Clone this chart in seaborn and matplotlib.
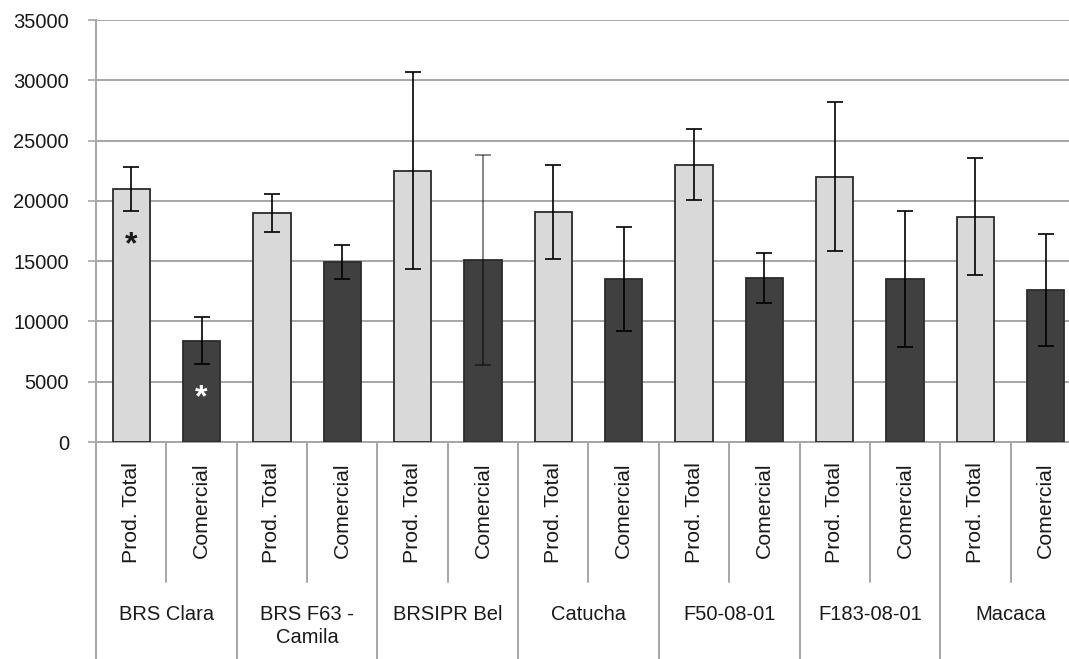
import matplotlib
matplotlib.use("Agg")
import matplotlib.pyplot as plt
import seaborn as sns
import pandas as pd

sns.set_theme(style="white")
plt.rcParams['font.family'] = ['Liberation Sans', 'DejaVu Sans']

cultivars = ["BRS Clara", "BRS F63 -\nCamila", "BRSIPR Bel", "Catucha",
             "F50-08-01", "F183-08-01", "Macaca"]
types = ["Prod. Total", "Comercial"]

prod_total = [21000, 19000, 22500, 19100, 23000, 22000, 18700]
prod_total_sd = [1800, 1550, 8150, 3900, 2950, 6200, 4850]
comercial = [8400, 14900, 15100, 13500, 13600, 13500, 12600]
comercial_sd = [1950, 1400, 8700, 4300, 2050, 5650, 4650]

# asterisks (bar index, y value, colour)
stars = [(0, 16300, "#1a1a1a"), (1, 3600, "white")]

rows = []
for i, c in enumerate(cultivars):
    rows.append({"bar": f"{i}a", "cultivar": c, "type": types[0],
                 "value": prod_total[i], "sd": prod_total_sd[i]})
    rows.append({"bar": f"{i}b", "cultivar": c, "type": types[1],
                 "value": comercial[i], "sd": comercial_sd[i]})
df = pd.DataFrame(rows)

fig = plt.figure(figsize=(10.69, 6.59), dpi=100)
ax = fig.add_axes([96 / 1069, 1 - 442 / 659, 985 / 1069, 422 / 659])

sns.barplot(data=df, x="bar", y="value", hue="type", dodge=False,
            palette={"Prod. Total": "#d9d9d9", "Comercial": "#404040"},
            width=0.53, errorbar=None, edgecolor="#2b2b2b", linewidth=1.3,
            legend=False, ax=ax, zorder=3)

pos = list(range(len(df)))
for p, v, s in zip(pos, df["value"], df["sd"]):
    alpha = 0.55 if p == 5 else 1.0
    ax.errorbar(p, v, yerr=s, fmt="none", ecolor="black", elinewidth=1.2,
                capsize=6, capthick=1.2, alpha=alpha, zorder=4)

for idx, y, col in stars:
    ax.text(idx, y, "*", ha="center", va="center", fontsize=23,
            color=col, fontweight="bold", zorder=5)

ax.set_ylim(0, 35000)
ax.set_xlim(-0.5, len(df) - 0.5)
ax.set_yticks(range(0, 35001, 5000))
ax.yaxis.grid(True, color="#a6a6a6", linewidth=1.4)
ax.set_axisbelow(True)
ax.tick_params(axis="y", length=6, width=1.2, color="#a6a6a6", pad=13.5,
               labelsize=14.5, labelcolor="#1a1a1a", left=True)
ax.set_xticks([])
ax.set_xlabel("")
ax.set_ylabel("")
for sp in ["top", "right"]:
    ax.spines[sp].set_visible(False)
ax.spines["left"].set_color("#a6a6a6")
ax.spines["left"].set_linewidth(1.4)
ax.spines["bottom"].set_color("#a6a6a6")
ax.spines["bottom"].set_linewidth(1.4)

trans = ax.get_xaxis_transform()
n = len(cultivars)
for g in range(n + 1):
    ax.plot([2 * g - 0.5, 2 * g - 0.5], [0, -0.52], transform=trans,
            color="#a6a6a6", lw=1.4, clip_on=False)
for g in range(n):
    ax.plot([2 * g + 0.5, 2 * g + 0.5], [0, -0.332], transform=trans,
            color="#a6a6a6", lw=1.4, clip_on=False)

for p, t in zip(pos, df["type"]):
    ax.text(p, -0.048, t, transform=trans, rotation=90, ha="center",
            va="top", fontsize=15.3, color="#1a1a1a")
for g, c in enumerate(cultivars):
    ax.text(2 * g + 0.5, -0.386, c, transform=trans, ha="center", va="top",
            fontsize=14.5, color="#1a1a1a", linespacing=1.25,
            multialignment="center")

fig.savefig("out.png", dpi=100)
